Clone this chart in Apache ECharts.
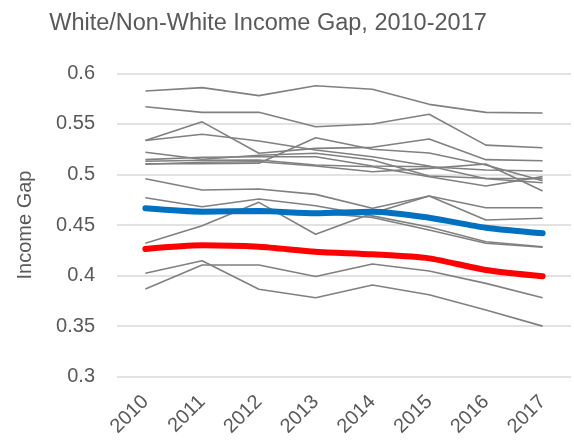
<!DOCTYPE html>
<html>
<head>
<meta charset="utf-8">
<script src="https://cdn.jsdelivr.net/npm/echarts@6/dist/echarts.min.js"></script>
<style>
html,body{margin:0;padding:0;background:#fff;}
#chart{width:574px;height:448px;}
</style>
</head>
<body>
<div id="chart"></div>
<script>
const years = ['2010','2011','2012','2013','2014','2015','2016','2017'];
const yTicks = [0.3, 0.35, 0.4, 0.45, 0.5, 0.55, 0.6];

const gray01 = [0.5825, 0.5858, 0.5779, 0.5877, 0.5842, 0.5693, 0.5614, 0.5607];
const gray02 = [0.567, 0.5614, 0.5614, 0.5472, 0.5499, 0.5595, 0.529, 0.5264];
const gray03 = [0.5335, 0.552, 0.521, 0.5258, 0.5268, 0.535, 0.5146, 0.5136];
const gray04 = [0.5335, 0.5397, 0.533, 0.5242, 0.5175, 0.5083, 0.4958, 0.4918];
const gray05 = [0.5106, 0.5106, 0.511, 0.5363, 0.5249, 0.5212, 0.5093, 0.4938];
const gray06 = [0.522, 0.515, 0.519, 0.5209, 0.5143, 0.4984, 0.4962, 0.4958];
const gray07 = [0.5146, 0.517, 0.5175, 0.5175, 0.5083, 0.5076, 0.5044, 0.5034];
const gray08 = [0.513, 0.514, 0.5143, 0.5093, 0.5076, 0.4977, 0.4886, 0.4978];
const gray09 = [0.510, 0.512, 0.5125, 0.5083, 0.5027, 0.506, 0.5103, 0.4836];
const gray10 = [0.4958, 0.4846, 0.4856, 0.4803, 0.4665, 0.4787, 0.467, 0.467];
const gray11 = [0.477, 0.468, 0.4757, 0.469, 0.459, 0.448, 0.4335, 0.4285];
const gray12 = [0.4655, 0.4625, 0.4635, 0.462, 0.4575, 0.445, 0.432, 0.428];
const gray13 = [0.4319, 0.4493, 0.4724, 0.4408, 0.4616, 0.4787, 0.455, 0.4566];
const gray14 = [0.4022, 0.4147, 0.3864, 0.378, 0.3907, 0.381, 0.366, 0.350];
const gray15 = [0.3867, 0.4104, 0.4104, 0.399, 0.4114, 0.4045, 0.3923, 0.378];
const blueSeries = [0.4665, 0.4632, 0.4638, 0.4616, 0.4632, 0.4572, 0.4473, 0.4418];
const redSeries = [0.4263, 0.4300, 0.4285, 0.4236, 0.4210, 0.4170, 0.4055, 0.3993];

const grays = [gray01, gray02, gray03, gray04, gray05, gray06, gray07, gray08,
  gray09, gray10, gray11, gray12, gray13, gray14, gray15];

const FONT = '"Liberation Sans", Arial, sans-serif';
const TXT = '#595959';

const series = grays.map(d => ({
  type: 'line', data: d, symbol: 'none', silent: true,
  lineStyle: {color: '#808080', width: 1.6}, z: 2
}));
series.push({type: 'line', data: blueSeries, symbol: 'none', smooth: 0.25,
  lineStyle: {color: '#0070C0', width: 6, cap: 'round'}, z: 3});
series.push({type: 'line', data: redSeries, symbol: 'none', smooth: 0.25,
  lineStyle: {color: '#FF0000', width: 6, cap: 'round'}, z: 4});

const chart = echarts.init(document.getElementById('chart'), null, {renderer: 'canvas'});
chart.setOption({
  animation: false,
  title: {
    text: 'White/Non-White Income Gap, 2010-2017',
    left: 263, top: 7, textAlign: 'center',
    textStyle: {color: TXT, fontSize: 23.5, fontWeight: 'normal', fontFamily: FONT}
  },
  grid: {left: 117, right: 3, top: 73.3, bottom: 71.3, containLabel: false},
  xAxis: {
    type: 'category', data: years, boundaryGap: true,
    axisLine: {show: false}, axisTick: {show: false},
    axisLabel: {rotate: 45, fontSize: 20, color: TXT, fontFamily: FONT, margin: 22}
  },
  yAxis: {
    type: 'value', min: yTicks[0], max: yTicks[yTicks.length - 1], interval: 0.05,
    name: 'Income Gap', nameLocation: 'middle', nameGap: 82,
    nameTextStyle: {fontSize: 20, color: TXT, fontFamily: FONT},
    axisLine: {show: false}, axisTick: {show: false},
    axisLabel: {fontSize: 20, color: TXT, fontFamily: FONT, margin: 22,
      formatter: v => String(+v.toFixed(2))},
    splitLine: {lineStyle: {color: '#d9d9d9', width: 1.5}}
  },
  series: series
});
</script>
</body>
</html>
